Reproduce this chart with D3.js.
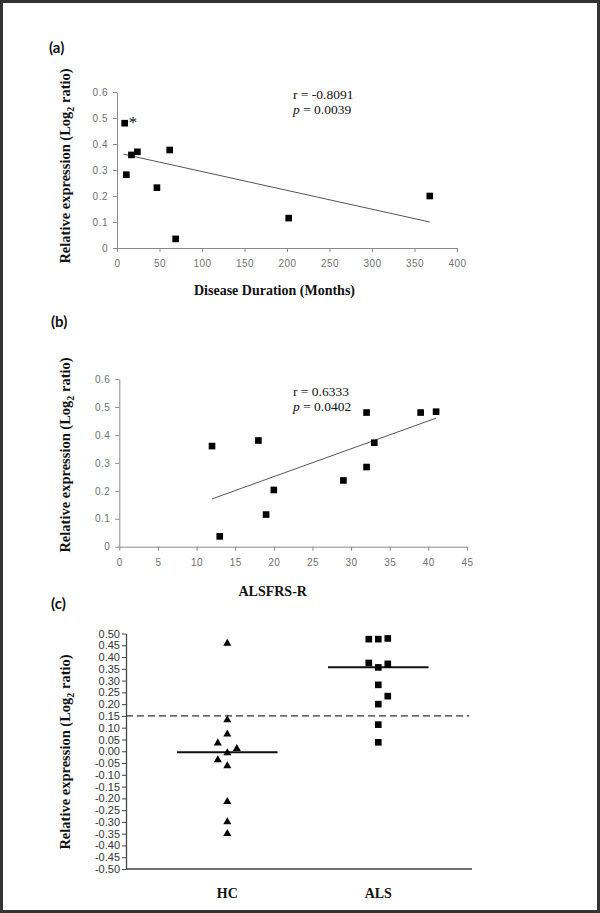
<!DOCTYPE html>
<html><head><meta charset="utf-8">
<script src="https://cdn.jsdelivr.net/npm/d3@7"></script>
<style>body{margin:0;background:#fff} svg{display:block}</style>
</head><body>
<svg id="chart" width="600" height="913"></svg>
<script>
// ---------- DATA ----------
// (a) Disease duration vs expression
const durationMonths = [9, 17, 24, 11, 62, 47, 69, 202, 368];
const exprA = [0.48, 0.358, 0.37, 0.282, 0.377, 0.232, 0.035, 0.115, 0.2];
const trendAx = [7.5, 368];
const trendAy = [0.361, 0.1];
const statsA = ["r = -0.8091", "0.0039"];
const xTicksA = [0, 50, 100, 150, 200, 250, 300, 350, 400];
const yTicksAB = [0, 0.1, 0.2, 0.3, 0.4, 0.5, 0.6];

// (b) ALSFRS-R vs expression
const alsfrs = [12, 13, 18, 19, 20, 29, 32, 32, 33, 39, 41];
const exprB = [0.36, 0.037, 0.38, 0.115, 0.203, 0.237, 0.48, 0.285, 0.372, 0.48, 0.483];
const trendBx = [12, 41];
const trendBy = [0.171, 0.46];
const statsB = ["r = 0.6333", "0.0402"];
const xTicksB = [0, 5, 10, 15, 20, 25, 30, 35, 40, 45];

// (c) HC vs ALS
const groups = ["HC", "ALS"];
const hcValues = [0.458, 0.133, 0.073, 0.034, 0.011, -0.007, -0.037, -0.062, -0.214, -0.30, -0.35];
const hcColumn = [0, 0, 0, -1, 1, 0, -1, 0, 0, 0, 0];
const alsValues = [0.476, 0.476, 0.479, 0.375, 0.356, 0.371, 0.282, 0.234, 0.2, 0.113, 0.038];
const alsColumn = [-1, 0, 1, -1, 0, 1, 0, 1, 0, 0, 0];
const medians = [-0.004, 0.357];
const cutoff = 0.15;
const yTicksC = [0.5, 0.45, 0.4, 0.35, 0.3, 0.25, 0.2, 0.15, 0.1, 0.05, 0, -0.05, -0.1, -0.15, -0.2, -0.25, -0.3, -0.35, -0.4, -0.45, -0.5];

// ---------- DRAW ----------
const svg = d3.select("#chart");
const SERIF = "'Liberation Serif','Times New Roman',serif";
const SANS = "'Liberation Sans',Arial,sans-serif";
const LABEL = "Lato,'Open Sans',sans-serif";

svg.append("rect").attr("x", 1.5).attr("y", 1.5).attr("width", 597).attr("height", 910)
  .attr("fill", "#fff").attr("stroke", "#333").attr("stroke-width", 3);

function panelLabel(t, x, y) {
  svg.append("text").attr("x", x).attr("y", y).text(t)
    .attr("font-family", LABEL).attr("font-weight", "bold").attr("font-size", 15).attr("fill", "#111");
}
function yTitle(cx, cy) {
  const t = svg.append("text").attr("transform", `translate(${cx},${cy}) rotate(-90)`)
    .attr("text-anchor", "middle").attr("font-family", SERIF).attr("font-weight", "bold")
    .attr("font-size", 14.5).attr("fill", "#111");
  t.append("tspan").text("Relative expression (Log");
  t.append("tspan").text("2").attr("font-size", 10).attr("dy", 4);
  t.append("tspan").text(" ratio)").attr("dy", -4);
}
function stats(lines, x, y) {
  svg.append("text").attr("x", x).attr("y", y).text(lines[0])
    .attr("font-family", SERIF).attr("font-size", 13.5).attr("fill", "#111");
  const t = svg.append("text").attr("x", x).attr("y", y + 15)
    .attr("font-family", SERIF).attr("font-size", 13.5).attr("fill", "#111");
  t.append("tspan").text("p").attr("font-style", "italic");
  t.append("tspan").text(" = " + lines[1]);
}
function styleAxis(g, color, fs, fill, ls) {
  g.select(".domain").attr("stroke", color);
  g.selectAll(".tick line").attr("stroke", color);
  g.selectAll(".tick text").attr("font-family", SANS).attr("font-size", fs).attr("fill", fill)
    .attr("letter-spacing", ls || 0);
}
const fmtAB = d => d === 0 ? "0" : d3.format(".1f")(d);

function scatterPanel(cfg) {
  const x = d3.scaleLinear().domain(cfg.xDomain).range([cfg.left, cfg.right]);
  const y = d3.scaleLinear().domain([0, 0.6]).range([cfg.bottom, cfg.top]);
  const gx = svg.append("g").attr("transform", `translate(0,${cfg.bottom})`)
    .call(d3.axisBottom(x).tickValues(cfg.xTicks).tickSize(4).tickPadding(8).tickSizeOuter(0));
  styleAxis(gx, "#8a8a8a", 10, "#707070", 0.5);
  const gy = svg.append("g").attr("transform", `translate(${cfg.left},0)`)
    .call(d3.axisLeft(y).tickValues(yTicksAB).tickFormat(fmtAB).tickSize(4).tickPadding(5).tickSizeOuter(0));
  styleAxis(gy, "#8a8a8a", 10, "#707070", 0.5);
  svg.append("line")
    .attr("x1", x(cfg.tx[0])).attr("y1", y(cfg.ty[0]))
    .attr("x2", x(cfg.tx[1])).attr("y2", y(cfg.ty[1]))
    .attr("stroke", "#555").attr("stroke-width", 1);
  svg.append("g").selectAll("path").data(cfg.xs).join("path")
    .attr("transform", (d, i) => `translate(${x(d)},${y(cfg.ys[i])})`)
    .attr("d", d3.symbol(d3.symbolSquare, 44)).attr("fill", "#000");
  return {x, y};
}

// Panel (a)
panelLabel("(a)", 49, 53);
const pa = scatterPanel({xDomain: [0, 400], left: 117, right: 457, top: 92, bottom: 248,
  xTicks: xTicksA, tx: trendAx, ty: trendAy, xs: durationMonths, ys: exprA});
svg.append("text").attr("x", pa.x(durationMonths[0]) + 4).attr("y", pa.y(exprA[0]) + 5).text("*")
  .attr("font-family", SERIF).attr("font-size", 17).attr("fill", "#111");
stats(statsA, 293, 99);
yTitle(70, 166);
svg.append("text").attr("x", 274.5).attr("y", 295).attr("text-anchor", "middle")
  .text("Disease Duration (Months)").attr("font-family", SERIF).attr("font-weight", "bold")
  .attr("font-size", 14).attr("fill", "#111");

// Panel (b)
panelLabel("(b)", 51, 327);
scatterPanel({xDomain: [0, 45], left: 119.3, right: 467, top: 379, bottom: 546.7,
  xTicks: xTicksB, tx: trendBx, ty: trendBy, xs: alsfrs, ys: exprB});
stats(statsB, 293, 396);
yTitle(70, 455);
svg.append("text").attr("x", 272.7).attr("y", 596).attr("text-anchor", "middle")
  .text("ALSFRS-R").attr("font-family", SERIF).attr("font-weight", "bold")
  .attr("font-size", 14).attr("fill", "#111");

// Panel (c)
panelLabel("(c)", 51, 609);
const cLeft = 126, cAxisRight = 472, cTop = 633.5, cBottom = 869;
const xC = d3.scalePoint().domain(groups).range([cLeft, 479.6]).padding(0.671);
const yC = d3.scaleLinear().domain([-0.5, 0.5]).range([cBottom, cTop]);
const colW = 9.5;
const step = xC.step();

svg.append("line").attr("x1", cLeft).attr("x2", cAxisRight).attr("y1", cBottom).attr("y2", cBottom)
  .attr("stroke", "#444").attr("stroke-width", 1.3);
const gyc = svg.append("g").attr("transform", `translate(${cLeft},0)`)
  .call(d3.axisLeft(yC).tickValues(yTicksC).tickFormat(d => d3.format(".2f")(d).replace("\u2212", "-"))
    .tickSize(4).tickPadding(2).tickSizeOuter(0));
styleAxis(gyc, "#444", 11, "#333", 0);
gyc.select(".domain").attr("stroke-width", 1.3);

// cutoff dashed line
svg.append("line").attr("x1", cLeft).attr("x2", cAxisRight - 3)
  .attr("y1", yC(cutoff)).attr("y2", yC(cutoff))
  .attr("stroke", "#333").attr("stroke-width", 1.2).attr("stroke-dasharray", "7,4");

// median lines
svg.append("g").selectAll("line").data(groups).join("line")
  .attr("x1", d => xC(d) - step * 0.333).attr("x2", d => xC(d) + step * 0.333)
  .attr("y1", (d, i) => yC(medians[i])).attr("y2", (d, i) => yC(medians[i]))
  .attr("stroke", "#111").attr("stroke-width", 2);

// HC triangles
svg.append("g").selectAll("path").data(hcValues).join("path")
  .attr("transform", (d, i) => `translate(${xC("HC") + hcColumn[i] * colW},${yC(d)})`)
  .attr("d", d3.symbol(d3.symbolTriangle, 28)).attr("fill", "#000");
// ALS squares
svg.append("g").selectAll("path").data(alsValues).join("path")
  .attr("transform", (d, i) => `translate(${xC("ALS") + alsColumn[i] * colW},${yC(d)})`)
  .attr("d", d3.symbol(d3.symbolSquare, 44)).attr("fill", "#000");

yTitle(70, 752);
svg.append("g").selectAll("text").data(groups).join("text")
  .attr("x", d => xC(d)).attr("y", 898).attr("text-anchor", "middle").text(d => d)
  .attr("font-family", SERIF).attr("font-weight", "bold").attr("font-size", 14).attr("fill", "#111");
</script></body></html>
